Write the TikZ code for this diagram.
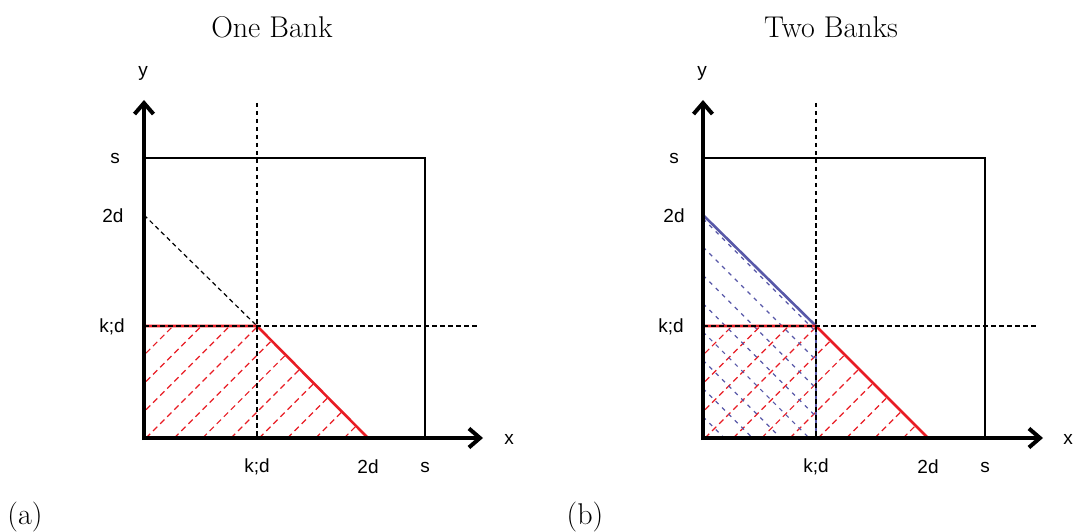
\documentclass[tikz,border=0pt]{standalone}
\usepackage{fontspec}
\newfontfamily\lab{Liberation Sans}
\usetikzlibrary{arrows.meta}
\definecolor{hred}{RGB}{232,28,36}
\definecolor{hblue}{RGB}{88,88,168}
\begin{document}
\begin{tikzpicture}[x=1pt,y=-1pt,
  axis/.style={line width=4pt,-{Straight Barb[length=11pt,width=19pt]}},
  boxline/.style={line width=1.2pt},
  guide/.style={line width=1.2pt,dash pattern=on 4.5pt off 3.5pt},
  hatchred/.style={hred,line width=1.2pt,dash pattern=on 6pt off 4pt},
  hatchblue/.style={hblue,line width=1.2pt,dash pattern=on 4pt off 5pt},
  redline/.style={hred,line width=2.6pt},
  blueline/.style={hblue,line width=2.6pt},
  lbl/.style={font=\lab\fontsize{19}{23}\selectfont,inner sep=0pt},
  ttl/.style={font=\fontsize{30}{36}\selectfont,inner sep=0pt}]
\useasboundingbox (0,0) rectangle (1077,532);

% ---------------- panel (a) ----------------
\coordinate (aO) at (144,438);
\coordinate (aK) at (257,326);
\coordinate (aKy) at (144,326);
\coordinate (aKx) at (257,438);
\coordinate (a2dy) at (144,215);
\coordinate (a2dx) at (368,438);
\coordinate (aSy) at (144,158);
\coordinate (aC) at (425,158);
\coordinate (aSx) at (425,438);
\coordinate (aVt) at (257,103);
\coordinate (aHr) at (478,326);

\begin{scope}
  \clip (aO) -- (aKy) -- (aK) -- (a2dx) -- cycle;
  \foreach \i in {-14,...,14} \draw[hatchred] (146+28.3*\i,438) -- ++(420,-420);
\end{scope}
\draw[boxline] (aSy) -- (aC) -- (aSx);
\draw[guide] (a2dy) -- (aK);
\draw[redline] (aKy) -- (aK) -- (a2dx);
\draw[guide] (aKy) -- (aHr);
\draw[guide] (aVt) -- (aKx);
\draw[axis] (142,438) -- (483,438);
\draw[axis] (144,440) -- (144,100);

\node[lbl] (ay) at (143,73) {y};
\node[lbl] (ax) at (509,439) {x};
\node[lbl] (as) at (115,158) {s};
\node[lbl] (a2d) at (113,216) {2d};
\node[lbl] (akd) at (112,327) {k;d};
\node[lbl] (akdx) at (257,467) {k;d};
\node[lbl] (a2dxl) at (368,467) {2d};
\node[lbl] (asx) at (425,467) {s};
\node[ttl] (atitle) at (272,27) {One Bank};
\node[ttl] (atag) at (25,517) {(a)};

% ---------------- panel (b) ----------------
\coordinate (bO) at (703,438);
\coordinate (bK) at (816,326);
\coordinate (bKy) at (703,326);
\coordinate (bKx) at (816,438);
\coordinate (b2dy) at (703,215);
\coordinate (b2dx) at (928,438);
\coordinate (bSy) at (703,158);
\coordinate (bC) at (985,158);
\coordinate (bSx) at (985,438);
\coordinate (bVt) at (816,103);
\coordinate (bHr) at (1037,326);

\begin{scope}
  \clip (bO) -- (bKy) -- (bK) -- (b2dx) -- cycle;
  \foreach \i in {-14,...,14} \draw[hatchred] (705+28.3*\i,438) -- ++(420,-420);
\end{scope}
\begin{scope}
  \clip (bO) -- (b2dy) -- (bK) -- (bKx) -- cycle;
  \foreach \i in {-14,...,14} \draw[hatchblue] (703,247+28.3*\i) -- ++(420,420);
\end{scope}
\draw[boxline] (bSy) -- (bC) -- (bSx);
\draw[blueline] (b2dy) -- (bK);
\draw[redline] (bKy) -- (bK) -- (b2dx);
\draw[blueline] (bK) -- (bKx);
\draw[guide] (bKy) -- (bHr);
\draw[guide] (bVt) -- (bKx);
\draw[axis] (701,438) -- (1043,438);
\draw[axis] (703,440) -- (703,100);

\node[lbl] (by) at (702,73) {y};
\node[lbl] (bx) at (1068,439) {x};
\node[lbl] (bs) at (674,158) {s};
\node[lbl] (b2d) at (674,216) {2d};
\node[lbl] (bkd) at (671,327) {k;d};
\node[lbl] (bkdx) at (816,467) {k;d};
\node[lbl] (b2dxl) at (928,467) {2d};
\node[lbl] (bsx) at (985,467) {s};
\node[ttl] (btitle) at (831,27) {Two Banks};
\node[ttl] (btag) at (585,517) {(b)};
\end{tikzpicture}
\end{document}
